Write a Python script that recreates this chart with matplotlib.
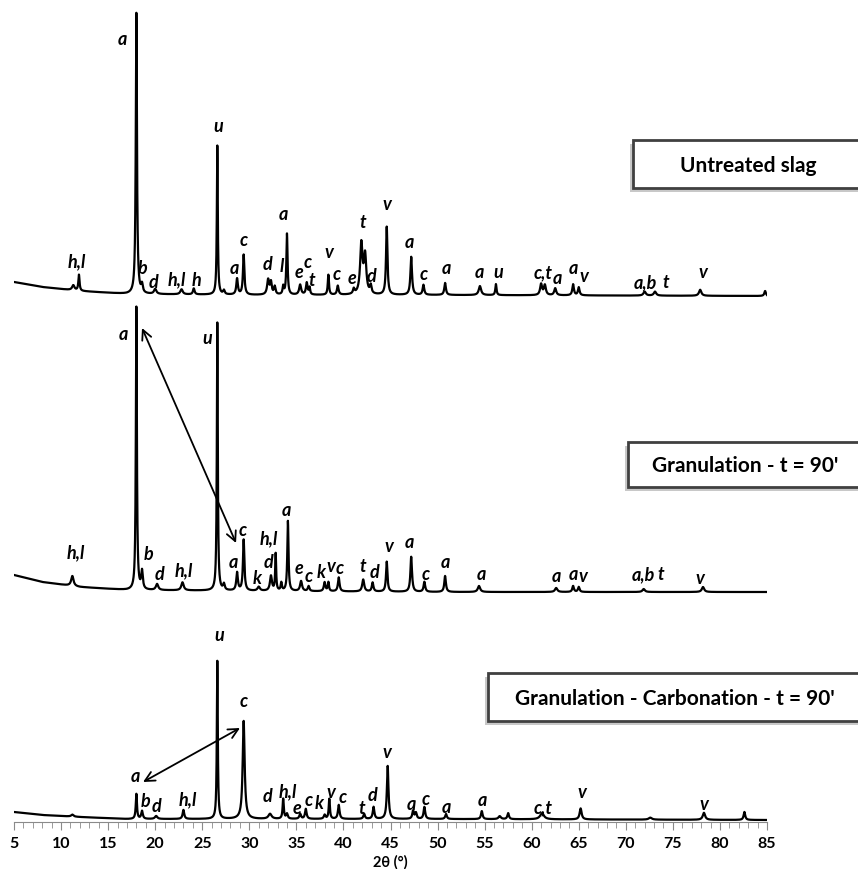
import numpy as np
import matplotlib
matplotlib.use("Agg")
import matplotlib.pyplot as plt
from matplotlib.patches import Rectangle

# ---- data: peaks (2theta, height, fwhm) and background anchors per pattern ----
two_theta = np.arange(5, 85.001, 0.02)

untreated_bg = [(5, 540), (8, 535), (12, 531), (17, 528), (30, 527), (50, 527), (85, 526)]
untreated_peaks = [
    (11.3, 5, 0.3), (11.9, 16, 0.15), (18.0, 281, 0.15), (18.6, 8, 0.2), (20.0, 5, 0.3),
    (22.8, 5, 0.3), (24.1, 6, 0.2), (26.6, 149, 0.12), (27.3, 4, 0.2), (28.7, 16, 0.2),
    (29.4, 40, 0.18), (32.0, 15, 0.25), (32.3, 12, 0.2), (32.7, 8, 0.2), (33.6, 8, 0.15),
    (34.0, 61, 0.15), (35.4, 10, 0.25), (36.1, 12, 0.2), (36.4, 7, 0.15), (38.4, 20, 0.15),
    (39.4, 9, 0.2), (41.1, 5, 0.2), (41.9, 50, 0.3), (42.3, 38, 0.3), (42.9, 8, 0.2),
    (44.6, 68, 0.18), (47.2, 38, 0.2), (48.5, 10, 0.2), (50.8, 12, 0.2), (54.5, 9, 0.3),
    (56.2, 11, 0.15), (61.0, 11, 0.25), (61.4, 10, 0.25), (62.5, 7, 0.25), (64.4, 11, 0.2),
    (65.0, 8, 0.2), (72.0, 4, 0.3), (73.1, 4, 0.3), (77.9, 6, 0.3), (84.8, 5, 0.2),
]
untreated_labels = [
    ("h,l", 11.69, 561), ("a", 16.47, 784), ("b", 18.70, 555), ("d", 19.87, 540),
    ("h,l", 22.32, 543), ("h", 24.34, 542), ("u", 26.67, 696), ("a", 28.37, 555),
    ("c", 29.44, 583), ("d", 31.88, 559), ("l", 33.47, 557), ("a", 33.58, 609),
    ("e", 35.28, 550), ("c", 36.20, 560), ("t", 36.65, 543), ("v", 38.47, 571),
    ("c", 39.32, 549), ("e", 40.91, 545), ("t", 42.08, 600), ("d", 43.03, 547),
    ("v", 44.63, 619), ("a", 46.97, 581), ("c", 48.56, 548), ("a", 50.90, 554),
    ("a", 54.40, 550), ("u", 56.42, 551), ("c,t", 61.20, 550), ("a", 62.69, 545),
    ("a", 64.39, 555), ("v", 65.56, 546), ("a,b", 72.04, 540), ("t", 74.27, 540),
    ("v", 78.20, 551),
]

gran_bg = [(5, 247), (8, 240), (12, 235), (17, 232), (30, 231), (50, 230), (85, 230)]
gran_peaks = [
    (11.2, 10, 0.3), (18.0, 283, 0.13), (18.6, 18, 0.2), (20.2, 6, 0.3), (22.9, 8, 0.3),
    (26.6, 268, 0.12), (27.3, 6, 0.2), (28.7, 18, 0.2), (29.4, 51, 0.18), (31.0, 4, 0.3),
    (32.3, 15, 0.25), (32.8, 37, 0.12), (33.4, 8, 0.15), (34.1, 70, 0.15), (35.5, 10, 0.25),
    (36.3, 5, 0.2), (38.0, 9, 0.2), (38.4, 9, 0.15), (39.5, 14, 0.2), (42.1, 12, 0.25),
    (43.1, 9, 0.2), (44.6, 30, 0.18), (47.2, 35, 0.2), (48.6, 10, 0.2), (50.8, 16, 0.2),
    (54.4, 6, 0.3), (62.6, 4, 0.3), (64.4, 6, 0.2), (65.0, 5, 0.2), (71.9, 3, 0.3),
    (78.2, 5, 0.3),
]
gran_labels = [
    ("h,l", 11.59, 270), ("a", 16.58, 488), ("b", 19.24, 268), ("d", 20.41, 248),
    ("h,l", 23.06, 252), ("u", 25.50, 485), ("a", 28.27, 260), ("c", 29.33, 293),
    ("k", 30.82, 245), ("h,l", 32.09, 284), ("d", 31.99, 261), ("a", 33.90, 312),
    ("e", 35.28, 255), ("c", 36.34, 247), ("k", 37.62, 251), ("v", 38.68, 257),
    ("c", 39.63, 255), ("t", 42.08, 257), ("d", 43.25, 250), ("v", 44.84, 276),
    ("a", 46.97, 280), ("c", 48.77, 249), ("a", 50.79, 260), ("a", 54.61, 248),
    ("a", 62.58, 246), ("a", 64.39, 248), ("v", 65.45, 246), ("a,b", 71.83, 248),
    ("t", 73.74, 248), ("v", 77.88, 244),
]

carb_bg = [(5, 10), (8, 7), (12, 5), (17, 3), (30, 3), (50, 3), (85, 2)]
carb_peaks = [
    (11.2, 2, 0.3), (18.0, 25, 0.15), (18.6, 8, 0.2), (20.1, 3, 0.3), (23.0, 9, 0.2),
    (26.6, 158, 0.12), (29.4, 98, 0.25), (32.2, 5, 0.4), (33.6, 20, 0.15), (34.0, 5, 0.2),
    (35.4, 5, 0.2), (36.0, 10, 0.2), (38.0, 4, 0.2), (38.5, 20, 0.15), (39.5, 14, 0.2),
    (42.2, 5, 0.2), (43.2, 12, 0.2), (44.7, 53, 0.2), (47.4, 8, 0.2), (47.7, 6, 0.2),
    (48.6, 12, 0.2), (50.9, 5, 0.2), (54.7, 8, 0.2), (56.6, 3, 0.3), (57.5, 6, 0.2),
    (61.1, 6, 0.5), (65.2, 11, 0.25), (72.6, 2, 0.4), (78.3, 7, 0.3), (82.6, 8, 0.2),
]
carb_labels = [
    ("a", 17.86, 46), ("b", 19.02, 21), ("d", 20.09, 16), ("h,l", 23.49, 23),
    ("u", 26.78, 187), ("c", 29.44, 121), ("d", 31.88, 26), ("h,l", 34.11, 31),
    ("e", 35.07, 14), ("c", 36.34, 22), ("k", 37.40, 19), ("v", 38.68, 30),
    ("c", 39.95, 25), ("t", 41.97, 14), ("d", 43.14, 27), ("v", 44.63, 70),
    ("a", 47.18, 18), ("c", 48.77, 23), ("a", 50.90, 15), ("a", 54.72, 22),
    ("c,t", 61.20, 15), ("v", 65.34, 30), ("v", 78.31, 18),
]

# double arrows (a <-> c) in the two treated patterns
arrows = [((18.60, 494), (28.59, 279)), ((18.71, 40), (29.01, 94))]

xticks = list(range(5, 90, 5))


def pattern(bg, peaks):
    bx, by = zip(*bg)
    y = np.interp(two_theta, bx, by)
    for pos, h, w in peaks:
        g = (w / 2) ** 2
        y = y + h * g / ((two_theta - pos) ** 2 + g)
    return y


W, H = 858, 870
fig = plt.figure(figsize=(W / 100, H / 100), dpi=100)
ax = fig.add_axes([14 / W, 47 / H, 753 / W, 823 / H])

for bg, peaks in [(untreated_bg, untreated_peaks), (gran_bg, gran_peaks), (carb_bg, carb_peaks)]:
    ax.plot(two_theta, pattern(bg, peaks), color="black", lw=1.6)

lab_font = dict(family=["Lato", "DejaVu Sans"], style="italic", weight="bold", size=13)
for labels in [untreated_labels, gran_labels, carb_labels]:
    for txt, x, y in labels:
        ax.text(x, y, txt, ha="center", va="center", **lab_font)

for p1, p2 in arrows:
    ax.annotate("", xy=p1, xytext=p2,
                arrowprops=dict(arrowstyle="<->,head_length=0.7,head_width=0.35",
                                color="black", lw=1.3, shrinkA=0, shrinkB=0))

ax.set_xlim(5, 85)
ax.set_ylim(0, 823)
ax.set_yticks([])
for s in ["left", "right", "top"]:
    ax.spines[s].set_visible(False)
ax.spines["bottom"].set_color("#8a8a8a")
ax.set_xticks(xticks)
ax.set_xticks(np.arange(5, 86, 1), minor=True)
ax.tick_params(axis="x", which="both", direction="out", colors="#8a8a8a")
ax.tick_params(axis="x", which="major", length=6, pad=4)
ax.tick_params(axis="x", which="minor", length=4)
for t in ax.get_xticklabels():
    t.set_color("black")
    t.set_fontweight("bold")
    t.set_fontsize(11.5)
    t.set_family(["Lato", "DejaVu Sans"])
ax.patch.set_visible(False)

# x-axis title placed just under the tick labels
fig.text(390 / W, 1 - 862 / H, "2θ (°)", ha="center", va="center", fontsize=10.5,
         fontweight="bold", family=["Lato", "DejaVu Sans"])

# boxed sample names (pixel positions converted to figure fraction)
boxes = [
    ("Untreated slag", (633, 141, 880, 189), (748, 166)),
    ("Granulation - t = 90'", (628, 443, 880, 488), (745, 466)),
    ("Granulation - Carbonation - t = 90'", (488, 674, 880, 722), (675, 699)),
]
for txt, (x0, y0, x1, y1), (tx, ty) in boxes:
    shadow = Rectangle(((x0 - 3) / W, 1 - (y1 + 4) / H), (x1 - x0) / W, (y1 - y0) / H,
                       transform=fig.transFigure, facecolor="#c8c8c8", edgecolor="none",
                       zorder=1)
    box = Rectangle((x0 / W, 1 - y1 / H), (x1 - x0) / W, (y1 - y0) / H,
                    transform=fig.transFigure, facecolor="white", edgecolor="#404040",
                    lw=2, zorder=2)
    fig.patches.extend([shadow, box])
    fig.text(tx / W, 1 - ty / H, txt, ha="center", va="center", fontsize=15,
             fontweight="bold", family=["Lato", "DejaVu Sans"], zorder=3)

fig.savefig("out.png", dpi=100)
